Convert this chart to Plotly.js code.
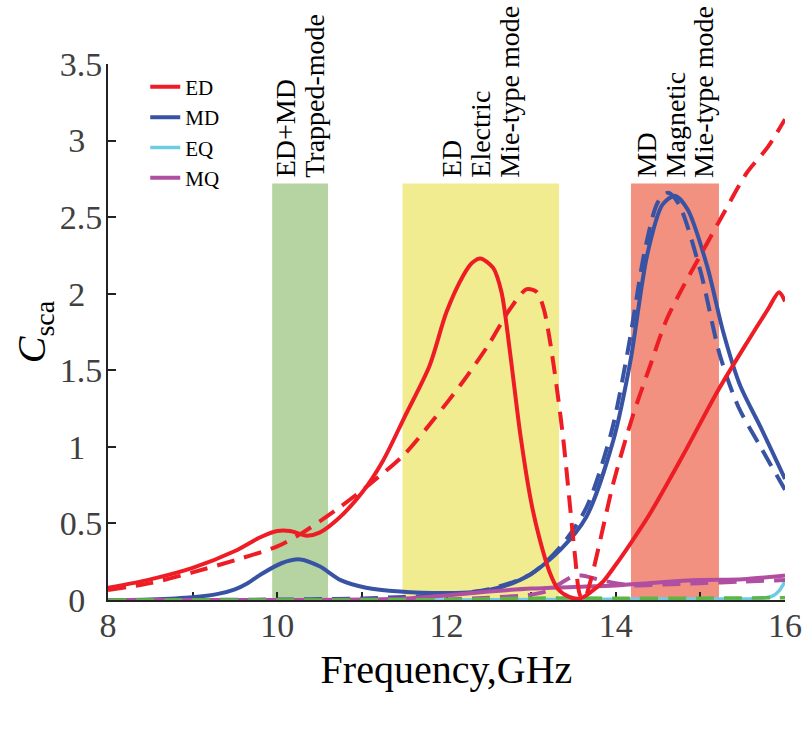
<!DOCTYPE html>
<html>
<head>
<meta charset="utf-8">
<script src="https://cdn.plot.ly/plotly-3.0.1.min.js"></script>
<style>
  html, body { margin: 0; padding: 0; background: #fff; }
  #chart { width: 807px; height: 730px; }
</style>
</head>
<body>
<div id="chart"></div>
<script>
// Multipole decomposition of the scattering cross-section (solid: structure A, dashed: structure B)

// Electric dipole
const edFreq = [8.0, 8.5, 9.0, 9.5, 9.8, 10.0, 10.15, 10.35, 10.5, 10.7, 11.0, 11.25, 11.5, 11.8, 12.0, 12.2, 12.3, 12.4, 12.55, 12.65, 12.75, 12.87, 13.0, 13.1, 13.22, 13.32, 13.45, 13.58, 13.7, 13.85, 14.0, 14.2, 14.4, 14.8, 15.2, 15.55, 15.8, 15.93, 16.0];
const edSolid = [0.08, 0.135, 0.21, 0.32, 0.41, 0.45, 0.45, 0.42, 0.44, 0.52, 0.70, 0.91, 1.19, 1.53, 1.88, 2.12, 2.20, 2.23, 2.17, 2.01, 1.62, 1.09, 0.64, 0.40, 0.18, 0.07, 0.02, 0.01, 0.05, 0.12, 0.23, 0.39, 0.56, 0.95, 1.36, 1.68, 1.90, 2.01, 1.95];
const edDashFreq = [8.0, 8.5, 9.0, 9.5, 10.0, 10.3, 10.7, 11.1, 11.5, 11.85, 12.2, 12.5, 12.75, 12.95, 13.07, 13.15, 13.22, 13.3, 13.38, 13.46, 13.52, 13.58, 13.63, 13.7, 13.8, 13.97, 14.2, 14.4, 14.6, 14.8, 15.0, 15.3, 15.55, 15.8, 16.0];
const edDashed = [0.065, 0.11, 0.18, 0.26, 0.35, 0.44, 0.59, 0.76, 0.95, 1.18, 1.43, 1.67, 1.90, 2.03, 2.01, 1.90, 1.70, 1.40, 1.05, 0.61, 0.28, 0.03, 0.01, 0.12, 0.35, 0.76, 1.20, 1.52, 1.83, 2.05, 2.25, 2.55, 2.79, 2.96, 3.14];

// Magnetic dipole
const mdFreq = [8.0, 8.5, 9.0, 9.3, 9.5, 9.65, 9.8, 10.05, 10.27, 10.5, 10.75, 11.05, 11.45, 12.0, 12.3, 12.65, 13.0, 13.35, 13.65, 13.97, 14.17, 14.37, 14.55, 14.7, 14.85, 15.08, 15.27, 15.47, 15.71, 16.0];
const mdSolid = [0.0, 0.004, 0.018, 0.04, 0.07, 0.11, 0.165, 0.24, 0.265, 0.22, 0.13, 0.08, 0.055, 0.045, 0.05, 0.085, 0.17, 0.33, 0.54, 1.04, 1.55, 2.25, 2.58, 2.64, 2.55, 2.18, 1.75, 1.40, 1.13, 0.79];
const mdDashFreq = [8.0, 10.0, 11.0, 11.5, 12.0, 12.5, 13.0, 13.35, 13.65, 13.95, 14.15, 14.35, 14.5, 14.62, 14.75, 15.0, 15.23, 15.45, 15.7, 16.0];
const mdDashed = [0.0, 0.003, 0.01, 0.02, 0.035, 0.07, 0.17, 0.35, 0.60, 1.10, 1.65, 2.30, 2.60, 2.66, 2.58, 2.15, 1.60, 1.26, 1.01, 0.72];

// Electric quadrupole
const eqFreq = [8.0, 11.0, 12.0, 13.0, 14.0, 15.0, 15.7, 15.85, 15.93, 16.0];
const eqSolid = [0.0, 0.0, 0.0, 0.003, 0.005, 0.007, 0.01, 0.025, 0.06, 0.12];
const eqDashFreq = [8.0, 12.0, 13.0, 14.0, 15.0, 16.0];
const eqDashed = [0.0, 0.003, 0.012, 0.012, 0.012, 0.015];

// Magnetic quadrupole
const mqFreq = [8.0, 10.0, 11.0, 11.5, 12.0, 12.5, 13.0, 13.5, 14.0, 14.5, 15.0, 15.5, 16.0];
const mqSolid = [0.0, 0.0, 0.003, 0.01, 0.03, 0.055, 0.075, 0.085, 0.095, 0.115, 0.13, 0.135, 0.16];
const mqDashFreq = [8.0, 11.0, 12.0, 12.5, 13.0, 13.2, 13.35, 13.5, 13.6, 13.75, 13.95, 14.2, 14.5, 15.0, 15.5, 16.0];
const mqDashed = [0.0, 0.0, 0.003, 0.015, 0.035, 0.06, 0.11, 0.155, 0.16, 0.14, 0.115, 0.095, 0.10, 0.11, 0.12, 0.13];

// Highlighted resonance bands
const bandStart = [9.94, 11.48, 14.18];
const bandEnd = [10.60, 13.33, 15.22];
const bandTop = [2.72, 2.72, 2.72];
const bandLabels = [
  ['ED+MD', 'Trapped-mode'],
  ['ED', 'Electric', 'Mie-type mode'],
  ['MD', 'Magnetic', 'Mie-type mode']
];

// Axis ticks
const xTickVals = [8, 9, 10, 11, 12, 13, 14, 15, 16];
const xTickText = ['8', '', '10', '', '12', '', '14', '', '16'];
const yTickVals = [0, 0.5, 1, 1.5, 2, 2.5, 3, 3.5];
const yTickText = ['0\u2002', '0.5', '1\u2002', '1.5', '2\u2002', '2.5', '3\u2002', '3.5'];

const RED = '#ee1d25';
const BLUE = '#3853a3';
const CYAN = '#6ccde2';
const PURPLE = '#b04fa1';
const GREEN = '#5cb747';
const SERIF = 'Liberation Serif, Times New Roman, serif';
const DASH = '18px,10px';

function curve(x, y, color, dashed, name, rank, width) {
  return {
    x: x, y: y, type: 'scatter', mode: 'lines',
    name: name || '',
    showlegend: !!name,
    legendrank: rank || 1000,
    line: { color: color, width: width || 4, dash: dashed ? DASH : 'solid', shape: 'spline', smoothing: 0.8 },
    hoverinfo: 'skip'
  };
}

const traces = [
  curve(eqFreq, eqSolid, CYAN, false, 'EQ', 3, 3.5),
  curve(mdDashFreq, mdDashed, BLUE, true),
  curve(mdFreq, mdSolid, BLUE, false, 'MD', 2),
  curve(mqDashFreq, mqDashed, PURPLE, true),
  curve(mqFreq, mqSolid, PURPLE, false, 'MQ', 4),
  curve(eqDashFreq, eqDashed, GREEN, true, null, 1000, 3.5),
  curve(edDashFreq, edDashed, RED, true),
  curve(edFreq, edSolid, RED, false, 'ED', 1)
];

const bandColors = ['#b6d4a1', '#f2ec91', '#f2917f'];
const shapes = bandStart.map((s, i) => ({
  type: 'rect', xref: 'x', yref: 'y', layer: 'below',
  x0: s, x1: bandEnd[i], y0: 0, y1: bandTop[i],
  fillcolor: bandColors[i], line: { width: 0 }
}));

const LINE_GAP = 28.5;
const annotations = [];
bandLabels.forEach((lines, i) => {
  const center = (bandStart[i] + bandEnd[i]) / 2;
  lines.forEach((t, j) => {
    annotations.push({
      x: center, y: bandTop[i], xref: 'x', yref: 'y',
      text: t, showarrow: false, textangle: -90,
      xanchor: 'center', yanchor: 'bottom', yshift: 4,
      xshift: (j - (lines.length - 1) / 2) * LINE_GAP,
      font: { family: SERIF, size: 28, color: '#000' }
    });
  });
});

const layout = {
  width: 807, height: 730,
  margin: { l: 108, r: 22, t: 64, b: 130 },
  paper_bgcolor: '#fff', plot_bgcolor: '#fff',
  showlegend: true,
  legend: {
    x: 0.055, y: 0.995, xanchor: 'left', yanchor: 'top',
    font: { family: SERIF, size: 21, color: '#000' },
    bgcolor: 'rgba(0,0,0,0)', itemwidth: 30
  },
  xaxis: {
    range: [8, 16], tickvals: xTickVals, ticktext: xTickText,
    ticks: 'inside', ticklen: 8, tickwidth: 2, tickcolor: '#222',
    showline: true, linecolor: '#222', linewidth: 2,
    showgrid: false, zeroline: false, layer: 'below traces',
    ticklabelstandoff: -6,
    tickfont: { family: SERIF, size: 34, color: '#404040' },
    title: { text: 'Frequency,GHz', font: { family: SERIF, size: 40, color: '#000' }, standoff: 12 }
  },
  yaxis: {
    range: [0, 3.5], tickvals: yTickVals, ticktext: yTickText,
    ticks: 'inside', ticklen: 8, tickwidth: 2, tickcolor: '#222',
    showline: true, linecolor: '#222', linewidth: 2,
    showgrid: false, zeroline: false, layer: 'below traces',
    ticklabelstandoff: -3,
    tickfont: { family: SERIF, size: 34, color: '#404040' },
    title: { text: '<i>C</i><sub>sca</sub>', font: { family: SERIF, size: 40, color: '#000' }, standoff: 0 }
  },
  shapes: shapes,
  annotations: annotations
};

Plotly.newPlot('chart', traces, layout, { staticPlot: true });
</script>
</body>
</html>
